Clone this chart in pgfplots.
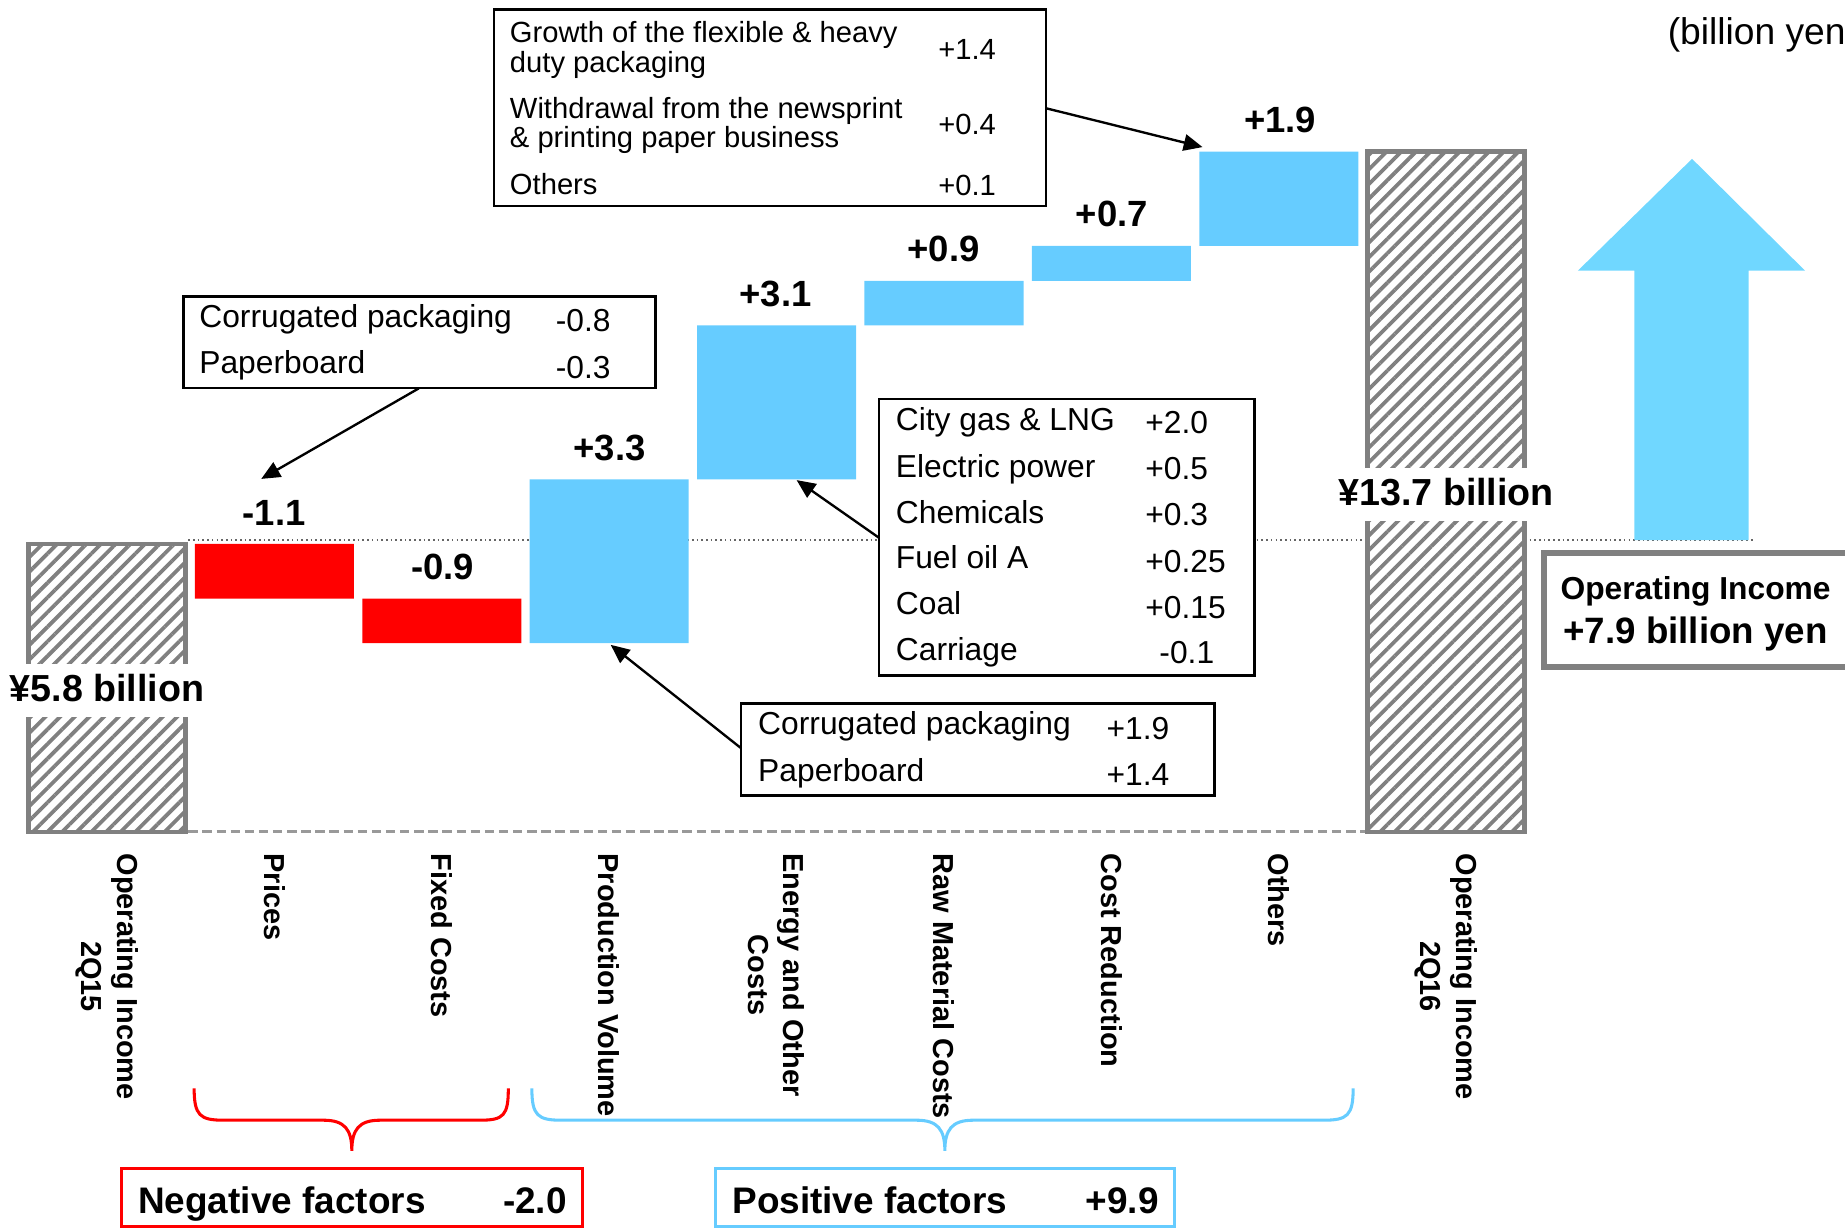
\documentclass[border=0pt]{standalone}
\usepackage{pgfplots}
\pgfplotsset{compat=1.18}
\usepackage{pgfplotstable}
\usepackage{fontspec}
\setmainfont{Liberation Sans}
\usetikzlibrary{patterns.meta,arrows.meta}
\definecolor{barblue}{HTML}{66CCFF}
\definecolor{arrowblue}{HTML}{70D7FF}
\definecolor{barred}{HTML}{FF0000}
\definecolor{hgray}{HTML}{808080}

% floating bars: base (invisible), decrease (red), increase (blue)
\pgfplotstableread{
idx base red blue
0 0    0   0
1 4.7  1.1 0
2 3.8  0.9 0
3 3.8  0   3.3
4 7.1  0   3.1
5 10.2 0   0.9
6 11.1 0   0.7
7 11.8 0   1.9
8 0    0   0
}\wf
\pgfplotstableread{
idx total
0 5.8
8 13.7
}\totals

\pgfplotsset{wfaxis/.style={
  at={(0,0)}, anchor=north west,
  width=784pt, height=523pt, scale only axis,
  xmin=-0.6397, xmax=10.383, ymin=-8.033, ymax=16.754,
  hide axis, clip=false}}

\begin{document}
\begin{tikzpicture}
\begin{scope}[x=0.5pt,y=-0.5pt]
  \draw[line width=0.7pt, dash pattern=on 0.7pt off 1.3pt, black!60] (160,459) -- (1490,459);
  \draw[line width=1.3pt, dash pattern=on 4pt off 2pt, black!40] (160,707) -- (1160,707);
\end{scope}

\begin{axis}[wfaxis, ybar stacked, bar width=0.95]
  \addplot[draw=none, fill=none] table[x=idx,y=base]{\wf};
  \addplot[draw=none, fill=barred] table[x=idx,y=red]{\wf};
  \addplot[draw=none, fill=barblue] table[x=idx,y=blue]{\wf};
\end{axis}

\begin{axis}[wfaxis, ybar, bar width=0.94]
  \addplot[draw=hgray, line width=2pt, fill=white,
    postaction={pattern={Lines[angle=45,distance=4.4pt,line width=1.6pt]}, pattern color=hgray}]
    table[x=idx,y=total]{\totals};
\end{axis}

\begin{scope}[x=0.5pt,y=-0.5pt,
  t/.style={anchor=west, inner sep=0pt, text height=0.95em, text depth=0pt, font=\fontsize{13.5}{15}\selectfont},
  ta/.style={t, font=\fontsize{12.4}{14}\selectfont},
  v/.style={anchor=center, inner sep=0pt, text height=0.95em, text depth=0pt, font=\fontsize{15.5}{17}\selectfont\bfseries},
  cat/.style={rotate=-90, anchor=west, inner sep=0pt, align=center, font=\fontsize{12.3}{15}\selectfont\bfseries},
  arr/.style={line width=1pt, -{Triangle[length=8pt,width=7pt]}}]

  % labels on hatched bars
  \node[fill=white, inner xsep=2pt, inner ysep=0pt, minimum height=22.5pt, text height=0.95em, text depth=0pt,
        font=\fontsize{16}{18}\selectfont\bfseries] at (91,587) {¥5.8 billion};
  \node[fill=white, inner xsep=2pt, inner ysep=0pt, minimum height=22.5pt, text height=0.95em, text depth=0pt,
        font=\fontsize{16}{18}\selectfont\bfseries] at (1229,420) {¥13.7 billion};

  % value labels
  \node[v] at (233,437) {-1.1};
  \node[v] at (376,483) {-0.9};
  \node[v] at (518,382) {+3.3};
  \node[v] at (659,251) {+3.1};
  \node[v] at (802,213) {+0.9};
  \node[v] at (945,183) {+0.7};
  \node[v] at (1088,103) {+1.9};

  % arrows
  \draw[arr] (889,92) -- (1022,125);
  \draw[arr] (356,330) -- (222,407);
  \draw[arr] (747,457) -- (677,408);
  \draw[arr] (630,636) -- (519,548);

  % box A
  \draw[line width=1pt, fill=white] (420,8) rectangle (889,175);
  \node[ta] at (433,27) {Growth of the flexible \& heavy};
  \node[ta] at (433,52) {duty packaging};
  \node[ta] at (797,41) {+1.4};
  \node[ta] at (433,91) {Withdrawal from the newsprint};
  \node[ta] at (433,116) {\& printing paper business};
  \node[ta] at (797,105) {+0.4};
  \node[ta] at (433,156) {Others};
  \node[ta] at (797,157) {+0.1};

  % box B
  \draw[line width=1pt, fill=white] (156,252) rectangle (557,330);
  \node[t] at (169,269) {Corrugated packaging};
  \node[t] at (472,272) {-0.8};
  \node[t] at (169,308) {Paperboard};
  \node[t] at (472,312) {-0.3};

  % box C
  \draw[line width=1pt, fill=white] (747,339) rectangle (1066,574);
  \node[t] at (761,356) {City gas \& LNG};   \node[t] at (973,359) {+2.0};
  \node[t] at (761,396) {Electric power};    \node[t] at (973,398) {+0.5};
  \node[t] at (761,435) {Chemicals};         \node[t] at (973,437) {+0.3};
  \node[t] at (761,474) {Fuel oil A};        \node[t] at (973,477) {+0.25};
  \node[t] at (761,513) {Coal};              \node[t] at (973,516) {+0.15};
  \node[t] at (761,552) {Carriage};          \node[t] at (985,554) {-0.1};

  % box D
  \draw[line width=1pt, fill=white] (630,598) rectangle (1032,676);
  \node[t] at (644,615) {Corrugated packaging};
  \node[t] at (940,619) {+1.9};
  \node[t] at (644,655) {Paperboard};
  \node[t] at (940,658) {+1.4};

  % big up arrow
  \fill[arrowblue] (1389,459) -- (1389,230) -- (1341,230) -- (1438,135) -- (1534,230) -- (1486,230) -- (1486,459) -- cycle;

  % operating income box
  \draw[hgray, line width=2.3pt, fill=white] (1312,470) rectangle (1590,567);
  \node[anchor=center, inner sep=0pt, text height=0.95em, text depth=0pt, font=\fontsize{13.5}{15}\selectfont\bfseries] at (1441,500) {Operating Income};
  \node[anchor=center, inner sep=0pt, text height=0.95em, text depth=0pt, font=\fontsize{15.6}{17}\selectfont\bfseries] at (1441,537) {+7.9 billion yen};

  % unit (cut at the right edge, as in the original)
  \node[anchor=west, inner sep=0pt, text height=0.95em, text depth=0pt, font=\fontsize{15.8}{17}\selectfont] at (1417,28) {(billion yen)};

  % category labels
  \node[cat] at (91,725) {Operating Income\\2Q15};
  \node[cat] at (233.25,725) {Prices};
  \node[cat] at (375.5,725) {Fixed Costs};
  \node[cat] at (517.75,725) {Production Volume};
  \node[cat] at (660,725) {Energy and Other\\Costs};
  \node[cat] at (802.25,725) {Raw Material Costs};
  \node[cat] at (944.5,725) {Cost Reduction};
  \node[cat] at (1086.75,725) {Others};
  \node[cat] at (1229,725) {Operating Income\\2Q16};

  % braces
  \draw[barred, line width=1.3pt] (165,925) .. controls (165,948) and (170,952) .. (190,952) -- (275,952)
     .. controls (293,952) and (299,960) .. (299,978)
     .. controls (299,960) and (305,952) .. (323,952) -- (408,952)
     .. controls (428,952) and (432,948) .. (432,925);
  \draw[barblue, line width=1.3pt] (452,925) .. controls (452,948) and (457,952) .. (477,952) -- (779,952)
     .. controls (797,952) and (803,960) .. (803,978)
     .. controls (803,960) and (809,952) .. (827,952) -- (1125,952)
     .. controls (1145,952) and (1150,948) .. (1150,925);

  % bottom boxes
  \draw[barred, line width=1.3pt] (103,993) rectangle (495,1042);
  \node[anchor=west, inner sep=0pt, text height=0.95em, text depth=0pt, font=\fontsize{15.7}{17}\selectfont\bfseries] at (117,1022) {Negative factors};
  \node[anchor=east, inner sep=0pt, text height=0.95em, text depth=0pt, font=\fontsize{15.7}{17}\selectfont\bfseries] at (482,1022) {-2.0};
  \draw[barblue, line width=1.3pt] (608,993) rectangle (998,1042);
  \node[anchor=west, inner sep=0pt, text height=0.95em, text depth=0pt, font=\fontsize{15.7}{17}\selectfont\bfseries] at (622,1022) {Positive factors};
  \node[anchor=east, inner sep=0pt, text height=0.95em, text depth=0pt, font=\fontsize{15.7}{17}\selectfont\bfseries] at (985,1022) {+9.9};
\end{scope}

\pgfresetboundingbox
\useasboundingbox (0,0) rectangle (784pt,-523pt);
\end{tikzpicture}
\end{document}
